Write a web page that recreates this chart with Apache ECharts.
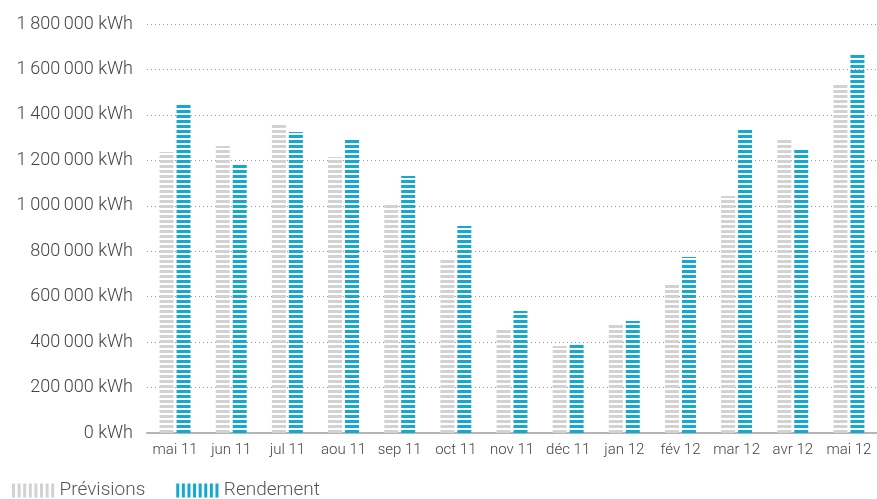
<!DOCTYPE html>
<html>
<head>
<meta charset="utf-8">
<script src="https://cdn.jsdelivr.net/npm/echarts@6/dist/echarts.min.js"></script>
<style>html,body{margin:0;padding:0;background:#fff}#c{width:877px;height:499px}</style>
</head>
<body>
<div id="c"></div>
<script>
const categories = ['mai 11','jun 11','jul 11','aou 11','sep 11','oct 11','nov 11','déc 11','jan 12','fév 12','mar 12','avr 12','mai 12'];
const previsions = [1237000,1263000,1360000,1215000,1004000,761000,453000,383000,476000,651000,1043000,1290000,1532000];
const rendement  = [1444000,1180000,1325000,1294000,1131000,911000,537000,394000,493000,775000,1342000,1246000,1664000];
const yTicks = {min:0, max:1800000, interval:200000};
const seriesNames = ['Prévisions','Rendement'];
const GRAY = '#d2d2d2', BLUE = '#15a8d1';

function stripes(color){
  const c = document.createElement('canvas');
  c.width = 4; c.height = 5;
  const ctx = c.getContext('2d');
  ctx.fillStyle = color;
  ctx.fillRect(0,0,4,3);
  return {image:c, repetition:'repeat'};
}
let iconPath = 'path://';
for (let i=0;i<8;i++){ const x=i*5.6; iconPath += 'M'+x+',0h3v14h-3z'; }

function fmt(v){
  return String(v).replace(/\B(?=(\d{3})+(?!\d))/g,'\u2009') + ' kWh';
}

const chart = echarts.init(document.getElementById('c'));
chart.setOption({
  animation:false,
  textStyle:{fontFamily:'Roboto'},
  grid:{left:147, right:-2, top:24, bottom:66, containLabel:false},
  legend:{
    left:12, top:481, itemWidth:43, itemHeight:14, itemGap:31, padding:0,
    textStyle:{color:'#555', fontSize:19, fontFamily:'Roboto', fontWeight:300},
    data:[
      {name:seriesNames[0], icon:iconPath, itemStyle:{color:GRAY}},
      {name:seriesNames[1], icon:iconPath, itemStyle:{color:BLUE}}
    ]
  },
  xAxis:{
    type:'category', data:categories,
    axisLine:{lineStyle:{color:'#b5b5b5', width:2}},
    axisTick:{show:false},
    axisLabel:{color:'#444', fontSize:15, margin:10, interval:0, fontWeight:300}
  },
  yAxis:{
    type:'value', min:yTicks.min, max:yTicks.max, interval:yTicks.interval,
    axisLine:{show:false}, axisTick:{show:false},
    axisLabel:{color:'#444', fontSize:18, margin:14, formatter:fmt, fontWeight:300},
    splitLine:{lineStyle:{color:'#999', type:[1,3], width:1}}
  },
  series:[
    {name:seriesNames[0], type:'bar', data:previsions, barWidth:14, barGap:'21%',
     itemStyle:{color:stripes(GRAY)}},
    {name:seriesNames[1], type:'bar', data:rendement, barWidth:14, barGap:'21%',
     itemStyle:{color:stripes(BLUE)}}
  ]
});
</script>
</body>
</html>
